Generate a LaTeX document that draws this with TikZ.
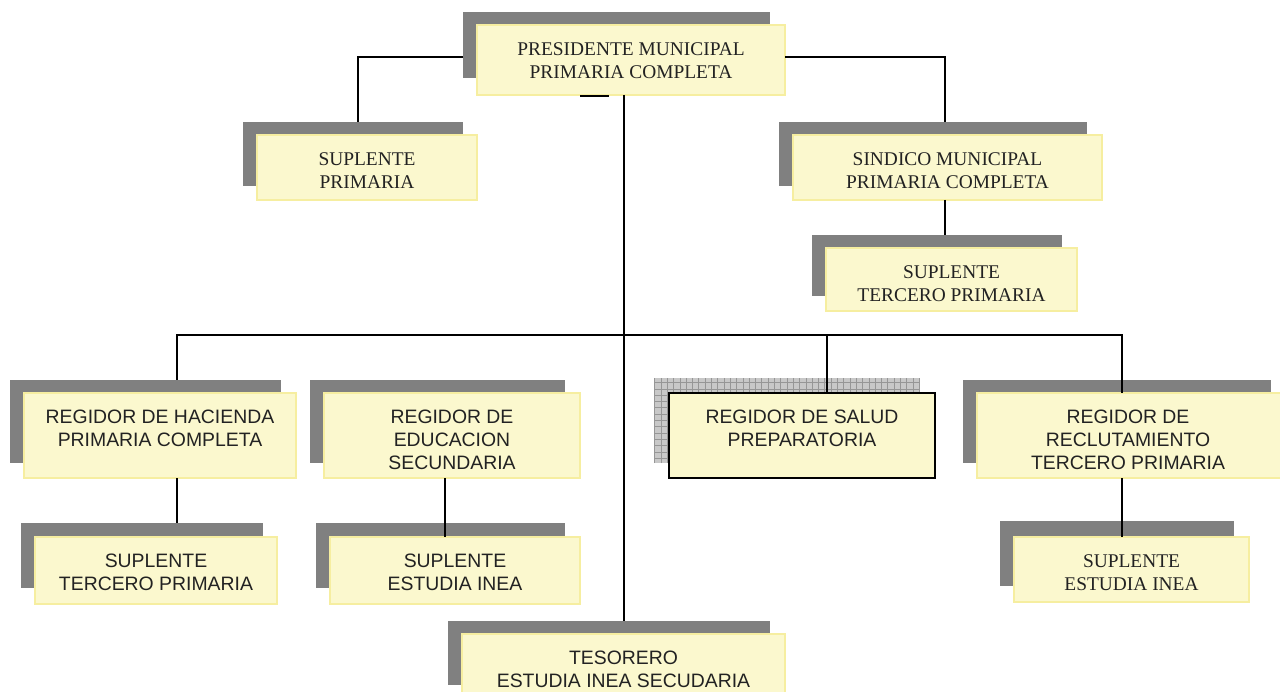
\documentclass[tikz,border=0pt]{standalone}
\usepackage{fontspec}
\setmainfont{Liberation Serif}
\newfontfamily\arialf{Liberation Sans}
\definecolor{boxfill}{RGB}{251,248,206}
\definecolor{boxline}{RGB}{246,238,160}
\definecolor{shade}{RGB}{128,128,128}
\definecolor{txtc}{RGB}{34,34,34}
\definecolor{gridbg}{RGB}{200,200,200}
\definecolor{gridln}{RGB}{150,150,150}
\newcommand\rbox[6]{\node[#2, minimum width={#5-#3}, minimum height={#6-#4}] (#1) at ({(#3+#5)/2},{(#4+#6)/2}) {};}
\begin{document}
\begin{tikzpicture}[x=1pt,y=-1pt,
  shadowbox/.style={fill=shade, inner sep=0pt, outer sep=0pt},
  gridshadow/.style={fill=gridbg, inner sep=0pt, outer sep=0pt,
     path picture={\draw[gridln, line width=0.8pt, step=6.3pt] (path picture bounding box.south west) grid (path picture bounding box.north east);}},
  frontbox/.style={fill=boxfill, draw=boxline, line width=1.5pt, inner sep=0pt, outer sep=0pt},
  darkbox/.style={fill=boxfill, draw=black, line width=1.5pt, inner sep=0pt, outer sep=0pt},
  seriftxt/.style={font=\fontsize{19.4}{23}\selectfont, text=txtc, align=center, inner sep=0pt, anchor=north},
  sanstxt/.style={font=\arialf\fontsize{19.4}{23}\selectfont, text=txtc, align=center, inner sep=0pt, anchor=north},
  conn/.style={draw=black, line width=1.6pt}]
\useasboundingbox (0,0) rectangle (1280,692);
% shadows
\rbox{pres-s}{shadowbox}{463}{12}{770}{78}
\rbox{sup1-s}{shadowbox}{243}{122}{463}{186}
\rbox{sind-s}{shadowbox}{779}{122}{1087}{186}
\rbox{sup2-s}{shadowbox}{812}{235}{1062}{296}
\rbox{hac-s}{shadowbox}{10}{380}{281}{463}
\rbox{sup3-s}{shadowbox}{21}{523}{263}{588}
\rbox{edu-s}{shadowbox}{310}{380}{565}{463}
\rbox{sup4-s}{shadowbox}{316}{523}{565}{588}
\rbox{sal-s}{gridshadow}{654}{378}{920}{463}
\rbox{rec-s}{shadowbox}{963}{380}{1271}{463}
\rbox{sup5-s}{shadowbox}{1000}{521}{1234}{586}
\rbox{tes-s}{shadowbox}{448}{621}{770}{685}
% fronts
\rbox{pres}{frontbox}{477}{25}{785}{95}
\rbox{sup1}{frontbox}{257}{135}{477}{200}
\rbox{sind}{frontbox}{793}{135}{1102}{200}
\rbox{sup2}{frontbox}{826}{248}{1077}{311}
\rbox{hac}{frontbox}{24}{393}{296}{478}
\rbox{sup3}{frontbox}{35}{537}{277}{604}
\rbox{edu}{frontbox}{324}{393}{580}{478}
\rbox{sup4}{frontbox}{330}{537}{580}{604}
\rbox{sal}{darkbox}{669}{393}{935}{478}
\rbox{rec}{frontbox}{977}{393}{1286}{478}
\rbox{sup5}{frontbox}{1014}{537}{1249}{602}
\rbox{tes}{frontbox}{462}{634}{785}{710}
% texts
\node[seriftxt] (pres-t) at ([yshift=-17pt]pres.north) {PRESIDENTE MUNICIPAL\\PRIMARIA COMPLETA};
\node[seriftxt] (sup1-t) at ([yshift=-17pt]sup1.north) {SUPLENTE\\PRIMARIA};
\node[seriftxt] (sind-t) at ([yshift=-17pt]sind.north) {SINDICO MUNICIPAL\\PRIMARIA COMPLETA};
\node[seriftxt] (sup2-t) at ([yshift=-17pt]sup2.north) {SUPLENTE\\TERCERO PRIMARIA};
\node[sanstxt] (hac-t) at ([yshift=-17pt]hac.north) {REGIDOR DE HACIENDA\\PRIMARIA COMPLETA};
\node[sanstxt] (sup3-t) at ([yshift=-17pt]sup3.north) {SUPLENTE\\TERCERO PRIMARIA};
\node[sanstxt] (edu-t) at ([yshift=-17pt]edu.north) {REGIDOR DE\\EDUCACION\\SECUNDARIA};
\node[sanstxt] (sup4-t) at ([yshift=-17pt]sup4.north) {SUPLENTE\\ESTUDIA INEA};
\node[sanstxt] (sal-t) at ([yshift=-17pt]sal.north) {REGIDOR DE SALUD\\PREPARATORIA};
\node[sanstxt] (rec-t) at ([yshift=-17pt]rec.north -| 1128,0) {REGIDOR DE\\RECLUTAMIENTO\\TERCERO PRIMARIA};
\node[seriftxt] (sup5-t) at ([yshift=-17pt]sup5.north) {SUPLENTE\\ESTUDIA INEA};
\node[sanstxt] (tes-t) at ([yshift=-17pt]tes.north) {TESORERO\\ESTUDIA INEA SECUDARIA};
% connectors
\draw[conn] (pres-s.west |- 0,57) -| (358,0 |- sup1-s.north);
\draw[conn] (pres.east |- 0,57) -| (945,0 |- sind-s.north);
\draw[conn] (945,0 |- sind.south) -- (945,0 |- sup2-s.north);
\draw[conn] (624,0 |- pres.south) -- (624,0 |- tes-s.north);
\draw[conn] (177,0 |- hac-s.north) -- (177,335) -- (1122,335) -- (1122,0 |- rec.north);
\draw[conn] (827,335) -- (827,0 |- sal.north);
\draw[conn] (177,0 |- hac.south) -- (177,0 |- sup3-s.north);
\draw[conn] (445,0 |- edu.south) -- (445,0 |- sup4.north);
\draw[conn] (1122,0 |- rec.south) -- (1122,0 |- sup5.north);
\draw[line width=2pt] (580,0 |- pres.south) ++(0,1) -- ++(29,0);
\end{tikzpicture}
\end{document}
